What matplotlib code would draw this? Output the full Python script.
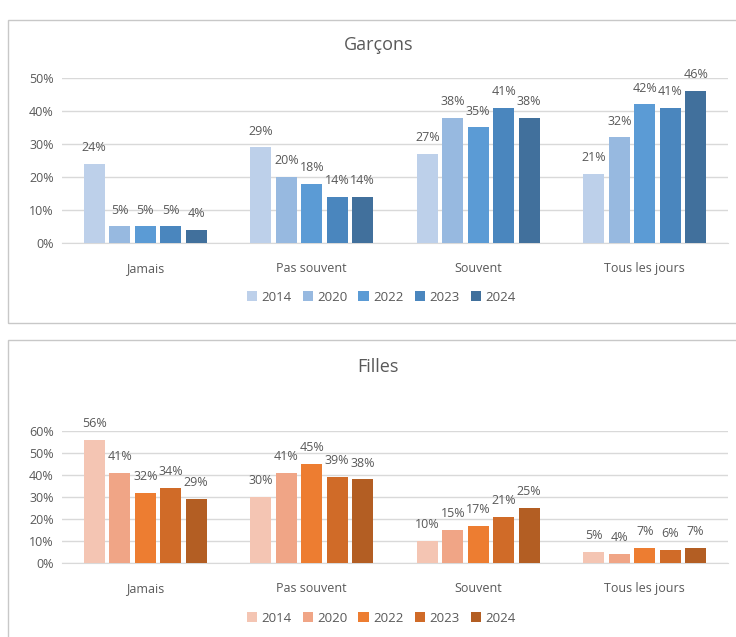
import matplotlib.pyplot as plt
import numpy as np
from matplotlib.patches import Rectangle

categories = ["Jamais", "Pas souvent", "Souvent", "Tous les jours"]
years = ["2014", "2020", "2022", "2023", "2024"]

# values in % : one list per year, order of categories
garcons = {
    "2014": [24, 29, 27, 21],
    "2020": [5, 20, 38, 32],
    "2022": [5, 18, 35, 42],
    "2023": [5, 14, 41, 41],
    "2024": [4, 14, 38, 46],
}
filles = {
    "2014": [56, 30, 10, 5],
    "2020": [41, 41, 15, 4],
    "2022": [32, 45, 17, 7],
    "2023": [34, 39, 21, 6],
    "2024": [29, 38, 25, 7],
}

blues = ["#bdd0ea", "#97b9e0", "#5b9bd5", "#4a86be", "#41709c"]
oranges = ["#f4c5b3", "#f0a586", "#ed7d31", "#d06b28", "#b35e23"]

txt = "#595959"
plt.rcParams['font.family'] = ['Open Sans', 'DejaVu Sans']

fig = plt.figure(figsize=(7.36, 6.37), dpi=100)

# panel frames (in pixel coords -> figure fraction)
W, H = 736, 637
for (x0, y0, x1, y1) in [(8, 20, 740, 323), (8, 340, 740, 645)]:
    fig.patches.append(Rectangle((x0 / W, 1 - y1 / H), (x1 - x0) / W, (y1 - y0) / H,
                                 transform=fig.transFigure, fill=False,
                                 edgecolor="#c8c8c8", lw=1.0))


def draw(ax, data, colors, ymax, title, title_y, leg_y):
    x = np.arange(len(categories))
    step = 0.153
    width = 0.127
    for i, yr in enumerate(years):
        pos = x + (i - 2) * step
        bars = ax.bar(pos, data[yr], width, color=colors[i], label=yr, zorder=3)
        for b, v in zip(bars, data[yr]):
            ax.annotate(f"{v}%", (b.get_x() + b.get_width() / 2, v),
                        xytext=(0, 7), textcoords="offset points",
                        ha="center", va="bottom", fontsize=9, color=txt)
    ax.set_xlim(-0.5, 3.5)
    ax.set_ylim(0, ymax)
    ax.set_yticks(np.arange(0, ymax + 1, 10))
    ax.set_yticklabels([f"{t}%" for t in range(0, ymax + 1, 10)])
    ax.set_xticks(x)
    ax.set_xticklabels(categories)
    ax.tick_params(axis="both", length=0, labelsize=9, labelcolor=txt)
    ax.tick_params(axis="x", pad=14)
    ax.tick_params(axis="y", pad=6)
    ax.grid(axis="y", color="#d9d9d9", lw=1, zorder=0)
    for s in ["top", "right", "left"]:
        ax.spines[s].set_visible(False)
    ax.spines["bottom"].set_color("#d9d9d9")
    fig.text(0.514, title_y, title, ha="center", va="center", fontsize=13, color=txt)
    leg = fig.legend(*ax.get_legend_handles_labels(), ncol=5, loc="center",
                     bbox_to_anchor=(381 / W, leg_y), bbox_transform=fig.transFigure,
                     frameon=False, fontsize=9.5, handlelength=0.8, handleheight=0.8,
                     handletextpad=0.3, columnspacing=0.85)
    for t in leg.get_texts():
        t.set_color(txt)


ax1 = fig.add_axes([62 / W, 1 - 243 / H, (728 - 62) / W, (243 - 78) / H])
draw(ax1, garcons, blues, 50, "Garçons", 1 - 45 / H, 1 - 297 / H)

ax2 = fig.add_axes([62 / W, 1 - 563 / H, (728 - 62) / W, (563 - 431) / H])
draw(ax2, filles, oranges, 60, "Filles", 1 - 367 / H, 1 - 618 / H)

fig.savefig("out.png", dpi=100)
